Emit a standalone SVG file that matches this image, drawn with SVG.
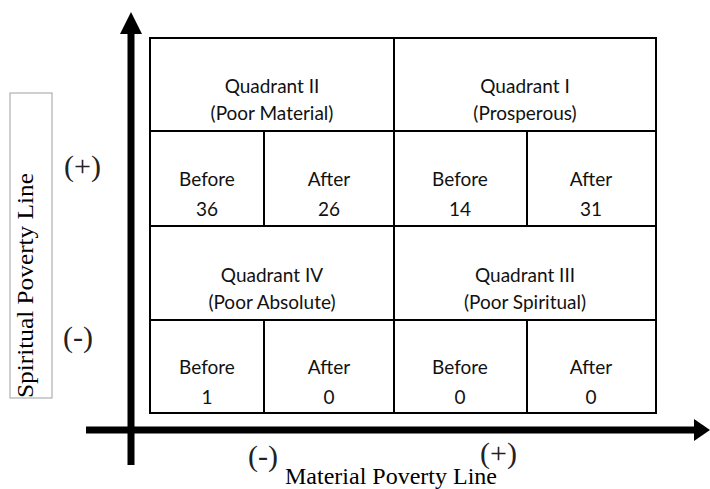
<svg xmlns="http://www.w3.org/2000/svg" width="710" height="489" viewBox="0 0 710 489">
<style>
.cell{fill:#fff;stroke:#000;stroke-width:2}
.t{font-family:Lato,"Open Sans","Liberation Sans",sans-serif;font-size:19px;fill:#111;text-anchor:middle}
.ser{font-family:"Liberation Serif","Times New Roman",serif;fill:#000}
.sign{font-family:"Liberation Serif","Times New Roman",serif;font-size:30px;fill:#222}
.axis{stroke:#000;stroke-width:7;fill:none}
</style>
<rect width="710" height="489" fill="#fff"/>
<g id="connectors">
  <line class="axis" x1="131" y1="28" x2="131" y2="465"/>
  <polygon points="131,12 120,34 142,34" fill="#000"/>
  <line class="axis" x1="86" y1="430" x2="696" y2="430"/>
  <polygon points="710,430 694,419 694,441" fill="#000"/>
</g>
<g id="quadrant2">
  <rect class="cell" x="150" y="38" width="244" height="93"/>
  <text class="t" x="272" y="93">Quadrant II</text>
  <text class="t" x="272" y="120">(Poor Material)</text>
</g>
<g id="quadrant1">
  <rect class="cell" x="394" y="38" width="262" height="93"/>
  <text class="t" x="525" y="93">Quadrant I</text>
  <text class="t" x="525" y="120">(Prosperous)</text>
</g>
<g id="q2-before">
  <rect class="cell" x="150" y="131" width="114" height="95"/>
  <text class="t" x="207" y="186">Before</text>
  <text class="t" x="207" y="216">36</text>
</g>
<g id="q2-after">
  <rect class="cell" x="264" y="131" width="130" height="95"/>
  <text class="t" x="329" y="186">After</text>
  <text class="t" x="329" y="216">26</text>
</g>
<g id="q1-before">
  <rect class="cell" x="394" y="131" width="133" height="95"/>
  <text class="t" x="460" y="186">Before</text>
  <text class="t" x="460" y="216">14</text>
</g>
<g id="q1-after">
  <rect class="cell" x="527" y="131" width="129" height="95"/>
  <text class="t" x="591" y="186">After</text>
  <text class="t" x="591" y="216">31</text>
</g>
<g id="quadrant4">
  <rect class="cell" x="150" y="226" width="244" height="94"/>
  <text class="t" x="272" y="282">Quadrant IV</text>
  <text class="t" x="272" y="309">(Poor Absolute)</text>
</g>
<g id="quadrant3">
  <rect class="cell" x="394" y="226" width="262" height="94"/>
  <text class="t" x="525" y="282">Quadrant III</text>
  <text class="t" x="525" y="309">(Poor Spiritual)</text>
</g>
<g id="q4-before">
  <rect class="cell" x="150" y="320" width="114" height="93"/>
  <text class="t" x="207" y="374">Before</text>
  <text class="t" x="207" y="404">1</text>
</g>
<g id="q4-after">
  <rect class="cell" x="264" y="320" width="130" height="93"/>
  <text class="t" x="329" y="374">After</text>
  <text class="t" x="329" y="404">0</text>
</g>
<g id="q3-before">
  <rect class="cell" x="394" y="320" width="133" height="93"/>
  <text class="t" x="460" y="374">Before</text>
  <text class="t" x="460" y="404">0</text>
</g>
<g id="q3-after">
  <rect class="cell" x="527" y="320" width="129" height="93"/>
  <text class="t" x="591" y="374">After</text>
  <text class="t" x="591" y="404">0</text>
</g>
<g id="y-label">
  <rect x="10" y="93" width="42" height="305" fill="#fff" stroke="#b0b0b0" stroke-width="1.2"/>
  <text class="ser" transform="translate(33,398) rotate(-90)" font-size="24" fill="#243552" textLength="225" lengthAdjust="spacingAndGlyphs">Spiritual  Poverty Line</text>
</g>
<g id="y-signs">
  <text class="sign" x="64" y="176">(+)</text>
  <text class="sign" x="63" y="347">(-)</text>
</g>
<g id="x-label">
  <text class="ser" x="285" y="484" font-size="24" textLength="212" lengthAdjust="spacingAndGlyphs">Material Poverty Line</text>
  <text class="sign" x="248" y="466">(-)</text>
  <text class="sign" x="480" y="463">(+)</text>
</g>
</svg>
